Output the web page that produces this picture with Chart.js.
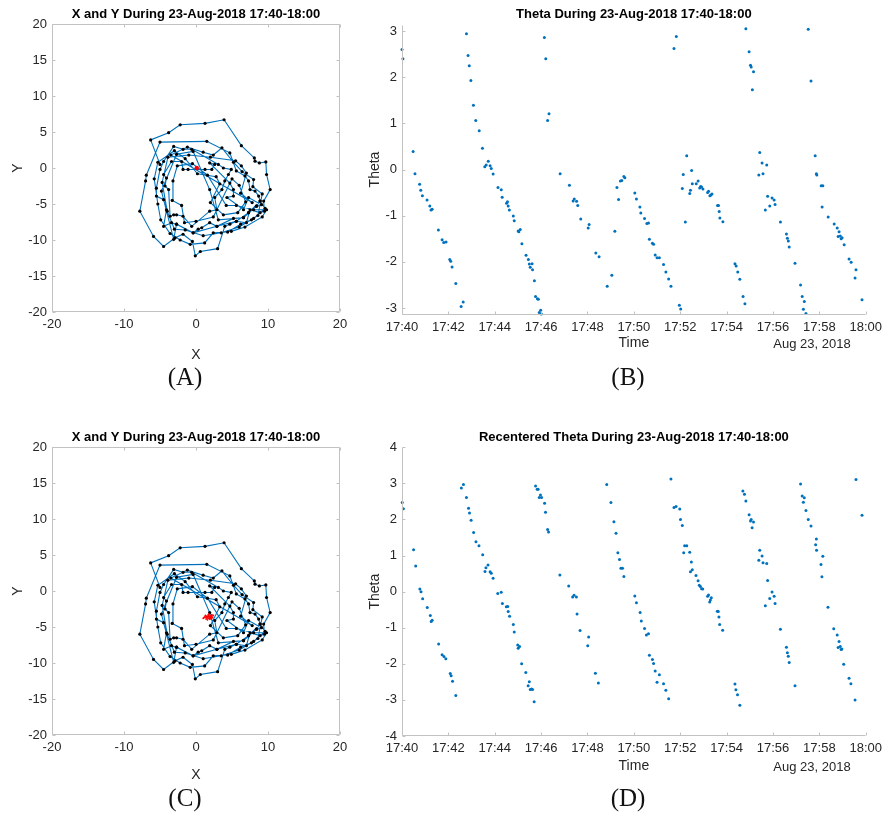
<!DOCTYPE html>
<html>
<head>
<meta charset="utf-8">
<script src="https://cdn.jsdelivr.net/npm/chart.js@4"></script>
<style>
body{margin:0;background:#fff;width:887px;height:815px;position:relative;overflow:hidden;font-family:"Liberation Sans",Arial,sans-serif}
canvas{position:absolute}
.cap{position:absolute;font-family:"Liberation Serif",serif;font-size:25px;color:#111;transform:translate(-50%,-50%);white-space:nowrap}
.date{position:absolute;font-size:13px;color:#262626;transform:translate(-50%,-50%);white-space:nowrap}
</style>
</head>
<body>
<canvas id="chartA" width="360" height="365" style="left:0;top:0"></canvas>
<canvas id="chartB" width="527" height="365" style="left:360px;top:0"></canvas>
<canvas id="chartC" width="360" height="365" style="left:0;top:420px"></canvas>
<canvas id="chartD" width="527" height="365" style="left:360px;top:420px"></canvas>
<div class="date" style="left:812px;top:343px">Aug 23, 2018</div>
<div class="date" style="left:812px;top:766px">Aug 23, 2018</div>
<div class="cap" style="left:185px;top:377px">(A)</div>
<div class="cap" style="left:628px;top:377px">(B)</div>
<div class="cap" style="left:185px;top:798px">(C)</div>
<div class="cap" style="left:628px;top:798px">(D)</div>
<script>
const pathX = [-5.0,-6.3,-3.8,-2.2,1.25,3.9,6.3,8.1,8.2,8.8,9.7,9.8,10.3,9.4,9.5,8.9,7.5,7.0,5.6,4.7,4.0,3.0,0.6,-0.1,-0.5,-1.8,-2.9,-4.5,-5.9,-7.8,
  -7.0,-6.9,-5.0,1.5,4.7,5.6,6.8,7.3,7.5,8.2,8.7,8.9,8.4,7.3,6.6,5.2,2.9,1.9,0.8,0.3,-0.4,-2.7,-3.4,-4.5,-4.1,-4.5,-5.5,-5.5,-5.0,-4.5,
  -3.1,-1.8,-0.6,3.1,3.8,4.9,4.5,4.0,3.6,2.6,2.9,1.9,-0.6,-1.8,-2.7,-3.1,-3.6,-3.8,-4.3,-4.1,-4.5,-3.4,-2.0,-1.8,-1.1,1.25,2.2,2.6,1.9,4.7,
  5.2,5.2,4.3,6.6,7.3,9.1,8.4,6.6,3.1,1.9,-0.4,-2.7,-4.8,-3.1,-2.7,-0.4,2.9,5.6,7.3,8.9,9.6,8.0,6.0,3.5,1.0,-1.5,-3.0,-4.0,-4.7,-3.9,
  -1.0,2.0,5.5,6.3,7.0,6.2,7.8,
  -3.5,-1.2,1.0,2.4,3.6,5.2,6.4,8.0,7.9,9.2,8.6,7.7,6.2,4.4,2.4,1.2,-0.8,-2.2,-3.6,-4.9,-5.3,-5.8,-5.3,-3.0,-1.5,0.2,2.8,3.3,2.0,3.8,
  5.8,6.9,6.0,5.0,2.4,0.0,-1.6,-2.0,-3.3,-3.2,-2.6,-0.5,1.6,4.2,5.6,8.0,9.8,9.2,6.8,4.9];
const pathY = [0.5,3.9,4.9,6.0,6.2,6.7,3.1,1.4,0.95,0.7,0.85,-0.9,-3.0,-4.6,-6.0,-6.2,-5.8,-7.6,-7.4,-7.8,-8.1,-11.2,-11.6,-12.2,-10.2,-9.2,-9.7,-10.9,-9.5,-6.0,
  -1.8,-1.0,3.6,3.7,2.1,-0.4,-1.1,-1.8,-3.0,-3.2,-3.9,-4.6,-5.3,-6.2,-6.9,-7.0,-8.1,-7.6,-8.3,-8.5,-9.0,-7.8,-7.6,-8.1,-5.8,-4.4,-3.9,-2.8,-0.2,0.9,
  3.0,2.6,2.6,0.5,0.0,-0.2,-0.9,-1.8,-3.0,-4.1,-5.8,-6.0,-8.1,-6.7,-6.5,-6.5,-6.7,-3.0,-2.5,-1.4,-0.9,0.9,0.9,-0.2,-0.2,-0.2,-0.2,0.5,0.7,-2.1,
  -3.0,-3.9,-4.1,-5.8,-4.1,-5.1,-5.3,-6.9,-7.2,-3.0,2.3,1.9,-3.2,-9.9,-7.8,-9.0,-8.1,-7.4,-6.2,-4.6,-5.6,-7.0,-8.2,-9.0,-9.4,-8.6,-8.5,-6.0,-2.0,1.5,
  1.8,1.5,1.0,0.3,-0.7,-3.5,-4.8,
  1.8,2.9,2.2,1.8,2.8,0.8,-0.5,-1.6,-2.6,-3.6,-6.6,-7.2,-7.8,-8.9,-9.0,-10.4,-10.6,-10.0,-9.1,-7.2,-5.0,-1.5,0.8,2.4,1.3,-0.8,-1.2,-2.2,-4.8,-6.5,
  -6.2,-4.7,-2.4,-1.5,-6.8,-7.4,-7.6,-5.2,-4.5,-1.8,0.3,0.6,-1.0,-5.2,-5.2,-5.8,-5.8,-6.8,-8.2,-8.8];
// red marks
const centerX = [0.1];
const centerY = [0.0];
const cloudX = [1.0,1.2,1.4,1.5,1.6,1.7,1.8,1.9,2.0,2.1,2.2,2.3,1.3,1.6,1.8,2.0,2.2,1.5,1.9,2.1,1.1,1.7,2.4,1.4];
const cloudY = [-3.8,-3.6,-3.9,-3.5,-3.7,-3.3,-3.8,-3.6,-3.4,-3.9,-3.5,-3.7,-3.4,-4.0,-3.2,-3.8,-3.3,-3.7,-3.9,-3.6,-3.7,-3.5,-3.4,-3.6];

// theta, minutes after 17:40
const thetaTime = [0,0.04,0.48,0.56,0.76,0.81,0.88,1.08,1.20,1.25,1.30,1.57,1.73,1.80,1.90,2.06,2.10,2.16,2.32,2.55,2.64,2.78,2.85,2.90,2.97,3.08,3.18,3.33,3.47,3.57,
  3.63,3.72,3.80,3.85,3.93,4.14,4.28,4.32,4.51,4.55,4.58,4.63,4.80,4.84,5.01,5.04,5.10,5.17,5.35,5.45,5.49,5.53,5.61,5.63,5.71,5.76,5.84,5.88,5.92,5.98,
  6.01,6.14,6.20,6.28,6.34,6.82,7.22,7.38,7.43,7.53,7.58,7.71,8.03,8.07,8.36,8.50,8.85,9.05,9.18,9.27,9.34,9.42,9.48,9.57,9.61,
  10.04,10.11,10.26,10.30,10.46,10.56,10.63,10.67,10.80,10.85,10.92,11.00,11.10,11.28,11.38,11.50,11.60,11.73,11.83,11.96,12.02,12.09,12.13,12.22,12.28,
  12.41,12.44,12.49,12.52,12.69,12.77,12.84,12.88,12.92,12.98,13.18,13.22,13.28,13.32,13.37,13.61,13.65,13.68,13.71,13.84,14.36,14.41,14.48,14.57,14.71,
  14.79,14.83,14.97,15.03,15.06,15.16,15.11,15.43,15.53,15.73,15.39,15.57,15.77,15.86,15.67,15.96,16.05,16.09,16.32,16.58,16.62,16.66,16.70,16.95,17.19,
  17.26,17.35,17.31,17.42,17.52,17.64,17.82,17.87,17.89,18.08,18.15,18.12,18.38,18.64,18.77,18.85,18.81,18.90,18.94,18.98,19.07,19.28,19.37,19.58,19.54,19.84];
const thetaVals = [2.60,2.40,0.39,-0.09,-0.32,-0.45,-0.57,-0.66,-0.79,-0.88,-0.86,-1.31,-1.52,-1.58,-1.57,-1.95,-1.99,-2.11,-2.47,-2.97,-2.87,2.94,2.47,2.25,1.93,1.39,1.06,0.84,0.46,0.06,
  0.10,0.18,0.08,0.02,-0.10,-0.39,-0.44,-0.60,-0.73,-0.70,-0.79,-0.88,-1.01,-1.11,-1.33,-1.35,-1.30,-1.61,-1.86,-1.95,-2.05,-2.12,-2.04,-2.17,-2.41,-2.75,-2.80,-2.81,-3.10,-3.05,
  -3.13,2.86,2.40,1.06,1.21,-0.09,-0.34,-0.68,-0.64,-0.69,-0.78,-1.07,-1.27,-1.19,-1.81,-1.89,-2.53,-2.29,-1.34,-0.39,-0.65,-0.25,-0.24,-0.15,-0.18,
  -0.51,-0.64,-0.81,-0.94,-1.06,-1.17,-1.16,-1.51,-1.60,-1.62,-1.85,-1.91,-1.91,-2.06,-2.22,-2.37,-2.53,2.62,2.88,-2.94,-3.02,-0.41,-0.11,-1.14,0.30,
  -0.52,-0.45,-0.02,-0.31,-0.31,-0.25,-0.40,-0.37,-0.38,-0.42,-0.50,-0.47,-0.57,-0.55,-0.53,-0.78,-0.78,-0.91,-1.05,-1.13,-2.04,-2.09,-2.22,-2.38,-2.75,
  -2.91,3.05,2.55,2.26,2.22,2.12,1.73,0.37,0.14,0.10,-0.12,-0.09,-0.58,-0.79,-0.88,-0.62,-0.66,-0.76,-1.14,-1.40,-1.49,-1.55,-1.68,-2.03,-2.50,
  -2.75,-2.86,-3.03,-3.12,3.04,1.92,0.30,-0.09,-0.12,-0.35,-0.35,-0.81,-1.03,-1.18,-1.27,-1.35,-1.45,-1.44,-1.50,-1.48,-1.63,-1.94,-2.01,-2.17,-2.35,-2.82];

// recentered theta, minutes after 17:40
const recTime = [0.01,0.06,0.50,0.59,0.77,0.82,0.89,1.09,1.22,1.26,1.30,1.58,1.73,1.81,1.89,2.08,2.12,2.18,2.32,2.56,2.65,2.78,2.87,2.91,2.98,3.09,3.19,3.32,3.48,3.58,
  3.62,3.71,3.80,3.85,3.93,4.13,4.28,4.33,4.50,4.56,4.58,4.64,4.80,4.84,4.99,5.01,5.07,5.16,5.34,5.44,5.49,5.53,5.59,5.63,5.70,5.76,5.83,5.87,5.92,5.97,
  6.02,6.15,6.19,6.28,6.32,6.81,7.19,7.36,7.42,7.52,7.55,7.68,8.01,8.05,8.34,8.47,8.83,9.01,9.14,9.23,9.31,9.38,9.44,9.51,9.57,
  10.04,10.11,10.27,10.32,10.46,10.54,10.63,10.67,10.80,10.85,10.92,11.10,11.00,11.28,11.38,11.50,11.60,11.73,11.82,11.98,12.01,12.09,12.19,12.28,12.15,
  12.41,12.48,12.52,12.44,12.68,12.77,12.82,12.87,12.92,12.97,13.18,13.22,13.30,13.34,13.27,13.60,13.64,13.67,13.70,13.83,14.36,14.40,14.47,14.57,14.70,
  14.77,14.83,14.97,15.06,15.03,15.16,15.10,15.43,15.53,15.39,15.57,15.73,15.77,15.96,15.86,16.05,16.09,15.67,16.32,16.58,16.62,16.66,16.70,16.95,17.19,
  17.26,17.35,17.31,17.42,17.52,17.64,17.87,17.84,17.88,18.15,18.07,18.11,18.37,18.62,18.77,18.85,18.81,18.90,18.94,18.97,19.05,19.28,19.36,19.54,19.58,19.84];
const recVals = [2.47,2.30,1.16,0.71,0.07,0.00,-0.20,-0.44,-0.66,-0.83,-0.79,-1.45,-1.75,-1.80,-1.86,-2.27,-2.33,-2.48,-2.88,2.87,2.97,2.61,2.31,2.18,1.98,1.64,1.38,1.27,1.02,0.56,
  0.66,0.74,0.55,0.51,0.37,-0.05,-0.02,-0.33,-0.42,-0.41,-0.55,-0.68,-0.91,-1.12,-1.48,-1.57,-1.52,-2.00,-2.24,-2.61,-2.50,-2.71,-2.70,-2.71,-3.05,2.93,2.84,2.84,2.61,2.68,
  2.61,2.45,2.20,1.72,1.65,0.46,0.16,-0.15,-0.10,-0.15,-0.62,-1.08,-1.50,-1.26,-2.26,-2.53,2.97,2.47,1.94,1.62,1.08,0.89,0.65,0.65,0.42,
  -0.12,-0.31,-0.58,-0.81,-1.02,-1.20,-1.17,-1.76,-1.88,-1.99,-2.20,-2.30,-2.51,-2.55,-2.73,-2.97,3.12,2.33,2.36,2.29,2.00,1.83,1.27,1.27,1.08,
  1.09,0.82,0.61,0.55,0.45,0.30,0.18,0.14,0.08,0.07,-0.13,-0.09,-0.23,-0.17,-0.29,-0.54,-0.55,-0.70,-0.91,-1.07,-2.56,-2.72,-2.86,-3.15,2.79,
  2.70,2.51,2.13,2.00,1.96,1.93,1.77,1.15,0.99,0.87,0.80,0.78,0.31,-0.01,-0.19,-0.13,-0.33,-0.39,-1.04,-1.54,-1.69,-1.79,-1.96,-2.61,2.98,
  2.65,2.60,2.48,2.25,2.00,1.82,1.46,1.30,1.15,0.98,0.75,0.41,-0.43,-1.03,-1.20,-1.38,-1.55,-1.52,-1.60,-1.59,-2.01,-2.40,-2.55,-3.00,3.11,2.12];

// tick values / labels
const xyTicks = [-20,-15,-10,-5,0,5,10,15,20];
const xyTicksX = [-20,-10,0,10,20];
const timeTicks = [0,2,4,6,8,10,12,14,16,18,20];
const timeTickLabels = ['17:40','17:42','17:44','17:46','17:48','17:50','17:52','17:54','17:56','17:58','18:00'];
const thetaTicks = [-3,-2,-1,0,1,2,3];
const recTicks = [-4,-3,-2,-1,0,1,2,3,4];

const txtColor = '#262626';
const blue = '#0072BD';
const fam = '"Liberation Sans", Arial, sans-serif';

// matlab-ish axes: light box + inward tick marks
const axisBox = {
    id: 'axisBox',
    afterDraw(chart, args, opts) {
        const {ctx, chartArea: a, scales} = chart;
        const L = Math.round(a.left) + 0.5, R = Math.round(a.right) - 0.5;
        const T = Math.round(a.top) + 0.5, B = Math.round(a.bottom) - 0.5;
        ctx.save();
        ctx.strokeStyle = '#c2c2c2';
        ctx.lineWidth = 1;
        ctx.beginPath();
        ctx.moveTo(L, T); ctx.lineTo(L, B); ctx.lineTo(R, B);
        if (opts.box) { ctx.lineTo(R, T); ctx.lineTo(L, T); }
        scales.x.ticks.forEach(t => {
            const x = Math.round(scales.x.getPixelForValue(t.value)) + 0.5;
            ctx.moveTo(x, B); ctx.lineTo(x, B - 3);
            if (opts.box) { ctx.moveTo(x, T); ctx.lineTo(x, T + 3); }
        });
        scales.y.ticks.forEach(t => {
            const y = Math.round(scales.y.getPixelForValue(t.value)) + 0.5;
            ctx.moveTo(L, y); ctx.lineTo(L + 3, y);
            if (opts.box) { ctx.moveTo(R, y); ctx.lineTo(R - 3, y); }
        });
        ctx.stroke();
        ctx.restore();
    }
};

function axis(g) {
    // g: min, max, ticks, labels, size (forced width/height), title, titlePad, horizontal
    return {
        type: 'linear',
        min: g.min,
        max: g.max,
        afterBuildTicks: s => { s.ticks = g.ticks.map(v => ({value: v})); },
        afterFit: s => { if (g.horizontal) s.height = g.size; else s.width = g.size; },
        grid: {display: false, drawTicks: false},
        border: {display: false},
        ticks: {
            padding: 5,
            color: txtColor,
            font: {family: fam, size: 13},
            callback: (v) => g.labels ? g.labels[g.ticks.indexOf(v)] : String(v)
        },
        title: {
            display: true,
            text: g.title,
            color: txtColor,
            font: {family: fam, size: 14},
            padding: g.horizontal ? {top: 0, bottom: g.titlePad} : {top: g.titlePad, bottom: 0}
        }
    };
}

function baseOptions(geom, titleText, xScale, yScale, box) {
    return {
        responsive: false,
        animation: false,
        devicePixelRatio: 1,
        layout: {padding: {left: 0, right: geom.right, top: 0, bottom: 0}},
        plugins: {
            legend: {display: false},
            tooltip: {enabled: false},
            title: {
                display: true,
                text: titleText,
                fullSize: false,
                color: '#000',
                font: {family: fam, size: 13, weight: 'bold'},
                padding: {top: geom.tt, bottom: geom.tb}
            },
            axisBox: {box: box}
        },
        scales: {x: xScale, y: yScale}
    };
}

function buildXY(id, redX, redY, redR, redLine, geom) {
    new Chart(document.getElementById(id), {
        type: 'scatter',
        data: {
            datasets: [{
                data: redX.map((x, i) => ({x: x, y: redY[i]})),
                pointRadius: redR,
                pointBackgroundColor: '#ff0000',
                pointBorderWidth: 0,
                showLine: redLine,
                borderColor: 'rgba(255,0,0,0.6)',
                borderWidth: 0.6
            }, {
                data: pathX.map((x, i) => ({x: x, y: pathY[i]})),
                showLine: true,
                borderColor: blue,
                borderWidth: 1.1,
                pointRadius: 1.6,
                pointBackgroundColor: '#000',
                pointBorderWidth: 0
            }]
        },
        options: baseOptions(geom, 'X and Y During 23-Aug-2018 17:40-18:00',
            axis({min: -20, max: 20, ticks: xyTicksX, size: geom.xh, title: 'X', titlePad: geom.xtp, horizontal: true}),
            axis({min: -20, max: 20, ticks: xyTicks, size: geom.yw, title: 'Y', titlePad: geom.ytp}),
            true),
        plugins: [axisBox]
    });
}

function buildTheta(id, tArr, vArr, title, ymin, ymax, yTicks, geom) {
    new Chart(document.getElementById(id), {
        type: 'scatter',
        data: {
            datasets: [{
                data: tArr.map((t, i) => ({x: t, y: vArr[i]})),
                pointRadius: 1.5,
                pointBackgroundColor: blue,
                pointBorderWidth: 0,
                clip: 4
            }]
        },
        options: baseOptions(geom, title,
            axis({min: 0, max: 20, ticks: timeTicks, labels: timeTickLabels, size: geom.xh, title: 'Time', titlePad: geom.xtp, horizontal: true}),
            axis({min: ymin, max: ymax, ticks: yTicks, size: geom.yw, title: 'Theta', titlePad: geom.ytp}),
            false),
        plugins: [axisBox]
    });
}

buildXY('chartA', centerX, centerY, 2.2, false, {right: 20, yw: 52, xh: 53, tt: 6.7, tb: 1.7, xtp: 1.6, ytp: 9.6});
buildXY('chartC', cloudX, cloudY, 0.9, true, {right: 20, yw: 52, xh: 50, tt: 9.7, tb: 1.7, xtp: 1.6, ytp: 9.6});
buildTheta('chartB', thetaTime, thetaVals, 'Theta During 23-Aug-2018 17:40-18:00', -Math.PI, Math.PI, thetaTicks,
    {right: 20, yw: 42, xh: 50.5, tt: 6.7, tb: 2.2, xtp: 13.6, ytp: 6.6});
buildTheta('chartD', recTime, recVals, 'Recentered Theta During 23-Aug-2018 17:40-18:00', -4, 4, recTicks,
    {right: 20, yw: 42, xh: 49, tt: 9.7, tb: 2, xtp: 10.6, ytp: 6.6});
</script>
</body>
</html>
